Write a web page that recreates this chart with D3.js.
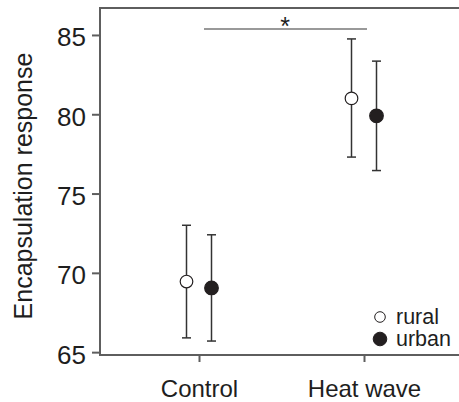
<!DOCTYPE html>
<html><head><meta charset="utf-8">
<script src="https://cdn.jsdelivr.net/npm/d3@7"></script>
<style>body{margin:0;background:#fff}svg{display:block}text{font-family:"Liberation Sans",Arial,sans-serif}</style>
</head><body><svg id="c" width="459" height="402"></svg>
<script>
const categories = ["Control", "Heat wave"];
const groups = ["rural", "urban"];
const ruralMean = [69.45, 81.0];
const ruralLow = [65.9, 77.3];
const ruralHigh = [73.0, 84.75];
const urbanMean = [69.05, 79.9];
const urbanLow = [65.7, 76.45];
const urbanHigh = [72.4, 83.35];
const yTicks = [65, 70, 75, 80, 85];

(function () {
const svg = d3.select("#c");
const mLeft = 100, mTop = 8, mBottom = 355, mRight = 530;
const y = d3.scaleLinear().domain([64.82, 86.7]).range([mBottom, mTop]);
const x = d3.scalePoint().domain(categories).range([199, 364]);
const off = {rural: -12.5, urban: 12.5};
const axisCol = "#5e5e5e";
const ink = "#1e1e1e";

svg.append("line").attr("x1", mLeft).attr("x2", mLeft).attr("y1", mTop).attr("y2", mBottom).attr("stroke", axisCol).attr("stroke-width", 2);
svg.append("line").attr("x1", mLeft - 1).attr("x2", mRight).attr("y1", mTop).attr("y2", mTop).attr("stroke", axisCol).attr("stroke-width", 2);
svg.append("line").attr("x1", mLeft - 1).attr("x2", mRight).attr("y1", mBottom).attr("y2", mBottom).attr("stroke", axisCol).attr("stroke-width", 2);

const ya = svg.append("g").attr("transform", `translate(${mLeft},0)`)
  .call(d3.axisLeft(y).tickValues(yTicks).tickSize(8).tickPadding(6));
ya.select(".domain").remove();
ya.selectAll(".tick line").attr("stroke", axisCol).attr("stroke-width", 2);
ya.selectAll(".tick text").attr("font-size", 26).attr("fill", ink).attr("dy", "0.42em");

const xa = svg.append("g").attr("transform", `translate(0,${mBottom})`)
  .call(d3.axisBottom(x).tickSize(7).tickPadding(0));
xa.select(".domain").remove();
xa.selectAll(".tick line").attr("stroke", axisCol).attr("stroke-width", 2);
xa.selectAll(".tick text").attr("font-size", 24).attr("fill", ink).attr("y", 42).attr("dy", null);

svg.append("text").attr("transform", `translate(32,186) rotate(-90)`)
  .attr("text-anchor", "middle").attr("font-size", 25).attr("fill", ink).text("Encapsulation response");

svg.append("line").attr("x1", 204).attr("x2", 367).attr("y1", 29).attr("y2", 29).attr("stroke", "#777").attr("stroke-width", 1.6);
svg.append("text").attr("x", 285).attr("y", 35).attr("text-anchor", "middle").attr("font-size", 25).attr("fill", ink).text("*");

const data = [];
categories.forEach((c, i) => {
  data.push({c, g: "rural", m: ruralMean[i], lo: ruralLow[i], hi: ruralHigh[i]});
  data.push({c, g: "urban", m: urbanMean[i], lo: urbanLow[i], hi: urbanHigh[i]});
});
const pts = svg.append("g").selectAll("g").data(data).join("g")
  .attr("transform", d => `translate(${x(d.c) + off[d.g]},0)`);
pts.append("line").attr("y1", d => y(d.lo)).attr("y2", d => y(d.hi)).attr("stroke", "#333").attr("stroke-width", 1.5);
pts.append("line").attr("x1", -4.5).attr("x2", 4.5).attr("y1", d => y(d.hi)).attr("y2", d => y(d.hi)).attr("stroke", "#333").attr("stroke-width", 1.5);
pts.append("line").attr("x1", -4.5).attr("x2", 4.5).attr("y1", d => y(d.lo)).attr("y2", d => y(d.lo)).attr("stroke", "#333").attr("stroke-width", 1.5);
pts.append("circle").attr("cy", d => y(d.m)).attr("r", d => d.g === "rural" ? 6.3 : 6.8)
  .attr("fill", d => d.g === "rural" ? "#fff" : "#231f20").attr("stroke", "#231f20").attr("stroke-width", 1.2);

const lg = svg.append("g").selectAll("g").data(groups).join("g")
  .attr("transform", (d, i) => `translate(380,${317 + i * 22})`);
lg.append("circle").attr("r", d => d === "rural" ? 5.3 : 6.8)
  .attr("fill", d => d === "rural" ? "#fff" : "#231f20").attr("stroke", "#231f20").attr("stroke-width", 1);
lg.append("text").attr("x", 16).attr("y", 7).attr("font-size", 21.5).attr("fill", ink).text(d => d);
})();
</script></body></html>
